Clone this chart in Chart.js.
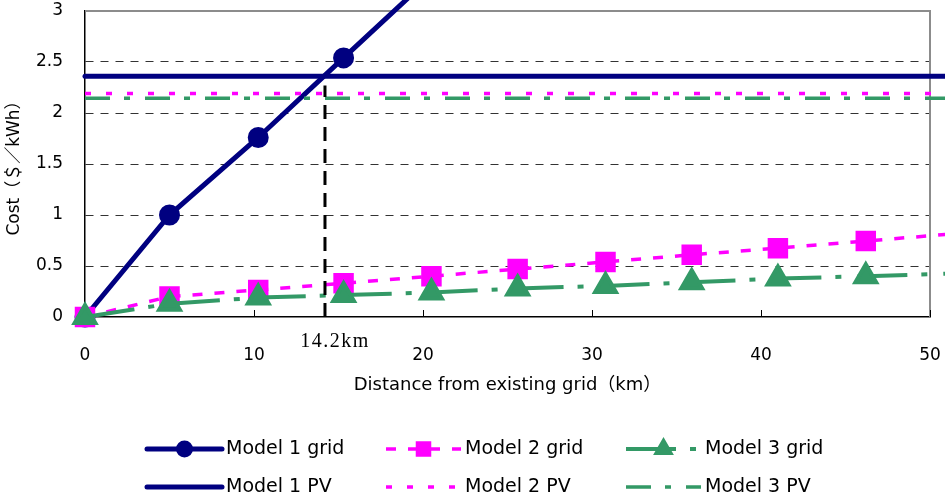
<!DOCTYPE html>
<html>
<head>
<meta charset="utf-8">
<script src="https://cdn.jsdelivr.net/npm/chart.js@4.4.1/dist/chart.umd.min.js"></script>
<style>
  html, body { margin: 0; padding: 0; background: #fff; }
  canvas { display: block; }
</style>
</head>
<body>
<canvas id="chart" width="945" height="503"></canvas>
<script>
// distance of the marked points (km)
const gridKm = [0, 5.0, 10.25, 15.3, 20.5, 25.6, 30.8, 35.9, 41.0, 46.2];
// lines run on past the right edge of the plot
const edgeKm = 51;

const model1Grid = [0, 1.0, 1.76, 2.54, 3.34];
const model2Grid = [0, 0.2, 0.265, 0.33, 0.4, 0.47, 0.54, 0.61, 0.675, 0.745];
const model3Grid = [0, 0.13, 0.19, 0.215, 0.24, 0.28, 0.305, 0.34, 0.377, 0.4];
const model2GridEdge = 0.81;
const model3GridEdge = 0.425;

const pvKm = [0, edgeKm];
const model1PV = 2.36;
const model2PV = 2.19;
const model3PV = 2.145;

const breakEvenKm = 14.2;
const breakEvenTop = 2.27;
const breakEvenLabel = '14.2km';

const xTicks = [0, 10, 20, 30, 40, 50];
const yTicks = [0, 0.5, 1, 1.5, 2, 2.5, 3];

const NAVY = '#000080';
const MAGENTA = '#ff00ff';
const GREEN = '#339966';
const FONT = "'DejaVu Sans', 'Noto Sans CJK JP', sans-serif";
const NONE = 'rgba(0,0,0,0)';

const toPoints = (xs, ys) => ys.map((y, i) => ({ x: xs[i], y }));
const markersOnly = (r, n) => (c) => (c.dataIndex < n ? r : 0);

const datasets = [
  {
    label: 'Model 1 grid',
    data: toPoints(gridKm, model1Grid),
    borderColor: NAVY, backgroundColor: NAVY, borderWidth: 5, borderCapStyle: 'round',
    pointStyle: 'circle', pointRadius: 8, legendRadius: 6,
    legendCol: 0, legendRow: 0, order: 8, clip: false,
  },
  {
    label: 'Model 2 grid',
    data: toPoints(gridKm, model2Grid).concat([{ x: edgeKm, y: model2GridEdge }]),
    borderColor: MAGENTA, backgroundColor: MAGENTA, borderWidth: 3.5, borderDash: [10, 12],
    pointStyle: 'rect', pointRadius: markersOnly(12, gridKm.length), legendRadius: 8.5,
    legendCol: 1, legendRow: 0, order: 7, clip: false,
  },
  {
    label: 'Model 3 grid',
    data: toPoints(gridKm, model3Grid).concat([{ x: edgeKm, y: model3GridEdge }]),
    borderColor: GREEN, backgroundColor: GREEN, borderWidth: 4, borderDash: [50, 14, 6, 16],
    pointStyle: 'triangle', pointRadius: markersOnly(12, gridKm.length), legendRadius: 8,
    legendCol: 2, legendRow: 0, order: 6, clip: false,
  },
  {
    label: 'Model 1 PV',
    data: pvKm.map((x) => ({ x, y: model1PV })),
    borderColor: NAVY, borderWidth: 5, borderCapStyle: 'round', pointRadius: 0,
    legendCol: 0, legendRow: 1, order: 5, clip: false,
  },
  {
    label: 'Model 2 PV',
    data: pvKm.map((x) => ({ x, y: model2PV })),
    borderColor: MAGENTA, borderWidth: 3.5, borderDash: [6, 15], pointRadius: 0,
    legendCol: 1, legendRow: 1, order: 4, clip: false,
  },
  {
    label: 'Model 3 PV',
    data: pvKm.map((x) => ({ x, y: model3PV })),
    borderColor: GREEN, borderWidth: 3.5, borderDash: [25, 14, 6, 15], pointRadius: 0,
    legendCol: 2, legendRow: 1, order: 3, clip: false,
  },
  {
    label: 'break-even',
    data: [{ x: breakEvenKm, y: 0 }, { x: breakEvenKm, y: breakEvenTop }],
    borderColor: '#000', borderWidth: 3, borderDash: [14, 8], pointRadius: 0,
    order: 1,
  },
];

// gray frame on top and right, inner tick marks on the x axis
const framePlugin = {
  id: 'frame',
  beforeDatasetsDraw(chart) {
    const { ctx, chartArea: a, scales } = chart;
    ctx.save();
    ctx.strokeStyle = '#8c8c8c';
    ctx.lineWidth = 2;
    ctx.beginPath();
    ctx.moveTo(a.left, a.top);
    ctx.lineTo(a.right, a.top);
    ctx.lineTo(a.right, a.bottom);
    ctx.stroke();
    ctx.strokeStyle = '#000';
    ctx.lineWidth = 1;
    scales.x.ticks.forEach((t) => {
      const px = Math.round(scales.x.getPixelForValue(t.value)) + 0.5;
      ctx.beginPath();
      ctx.moveTo(px, a.bottom);
      ctx.lineTo(px, a.bottom - 7);
      ctx.stroke();
    });
    ctx.restore();
  },
  afterDraw(chart) {
    const { ctx, scales } = chart;
    ctx.save();
    ctx.fillStyle = '#000';
    ctx.font = "20px 'Liberation Serif', serif";
    ctx.letterSpacing = '1.5px';
    ctx.textAlign = 'center';
    ctx.textBaseline = 'middle';
    ctx.fillText(breakEvenLabel, scales.x.getPixelForValue(breakEvenKm + 0.6), scales.y.getPixelForValue(0) + 25);
    ctx.restore();
  },
};

const legendPlugin = {
  id: 'twoRowLegend',
  afterDraw(chart) {
    const { ctx } = chart;
    const colX = [147, 386, 626];
    const rowY = [449, 487];
    const sample = 75;
    ctx.save();
    chart.data.datasets.forEach((ds) => {
      if (ds.legendCol === undefined) return;
      const x0 = colX[ds.legendCol];
      const y = rowY[ds.legendRow];
      ctx.strokeStyle = ds.borderColor;
      ctx.lineWidth = ds.borderWidth;
      ctx.lineCap = ds.borderCapStyle || 'butt';
      ctx.setLineDash(ds.borderDash || []);
      ctx.beginPath();
      ctx.moveTo(x0, y);
      ctx.lineTo(x0 + sample, y);
      ctx.stroke();
      ctx.setLineDash([]);
      if (ds.legendRadius) {
        ctx.fillStyle = ds.backgroundColor;
        Chart.helpers.drawPoint(ctx, {
          pointStyle: ds.pointStyle, radius: ds.legendRadius, rotation: 0, borderWidth: 1,
        }, x0 + sample / 2, y);
      }
      ctx.fillStyle = '#000';
      ctx.font = `19px ${FONT}`;
      ctx.textAlign = 'left';
      ctx.textBaseline = 'middle';
      ctx.fillText(ds.label, x0 + sample + 4, y);
    });
    ctx.restore();
  },
};

new Chart(document.getElementById('chart'), {
  type: 'line',
  data: { datasets },
  plugins: [framePlugin, legendPlugin],
  options: {
    responsive: false,
    animation: false,
    devicePixelRatio: 1,
    layout: { autoPadding: false, padding: { top: 11, right: 15, bottom: 106, left: 0 } },
    plugins: { legend: { display: false }, tooltip: { enabled: false } },
    elements: { line: { tension: 0 } },
    scales: {
      x: {
        type: 'linear',
        min: 0,
        max: 50,
        afterBuildTicks: (s) => { s.ticks = xTicks.map((value) => ({ value })); },
        afterFit: (s) => { s.height = 80; },
        // invisible tick marks push the labels down from the axis
        grid: { drawOnChartArea: false, drawTicks: true, tickLength: 28, tickColor: NONE },
        border: { color: '#000', width: 1.5 },
        ticks: { padding: 0, color: '#000', font: { family: FONT, size: 17 } },
        title: {
          display: true,
          text: 'Distance from existing grid（km）',
          color: '#000',
          font: { family: FONT, size: 18 },
          padding: { top: 0, bottom: 1 },
        },
      },
      y: {
        min: 0,
        max: 3,
        afterBuildTicks: (s) => { s.ticks = yTicks.map((value) => ({ value })); },
        afterFit: (s) => { s.width = 85; },
        grid: {
          drawTicks: true,
          tickLength: 22,
          tickColor: NONE,
          color: (c) => (c.tick && c.tick.value > 0 && c.tick.value < 3 ? '#333' : NONE),
          lineWidth: 1,
        },
        border: { color: '#000', width: 1.5, dash: [8, 7] },
        ticks: {
          padding: 0,
          color: '#000',
          font: { family: FONT, size: 17 },
          callback: (v) => String(v),
        },
        title: {
          display: true,
          text: 'Cost（＄／kWh）',
          color: '#000',
          font: { family: FONT, size: 17 },
          padding: { top: 4, bottom: 0 },
        },
      },
    },
  },
});
</script>
</body>
</html>
